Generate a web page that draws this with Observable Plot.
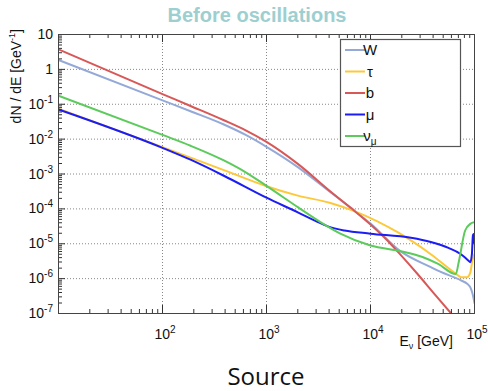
<!DOCTYPE html>
<html><head><meta charset="utf-8">
<script src="https://cdn.jsdelivr.net/npm/d3@7"></script>
<script src="https://cdn.jsdelivr.net/npm/@observablehq/plot@0.6"></script>
<style>
html,body{margin:0;padding:0;background:#fff;}
#chart svg{display:block;font-family:"Liberation Sans",Arial,sans-serif;}
</style>
</head><body><div id="chart"></div>
<script>
// ---- data ----
const seriesNames = ["W", "τ", "b", "μ", "ν_μ"];
const seriesColors = ["#94a9d8", "#fdc83a", "#d85858", "#1c1cf5", "#5ccb5c"];

const eW   = [10, 100, 186, 389, 631, 1000, 2000, 4120, 6460, 10000, 19500, 38000, 46800, 74100, 85100, 91200, 95500, 100000];
const vW   = [1.85, 0.129, 0.0631, 0.0263, 0.0132, 6.03e-3, 1.58e-3, 3.02e-4, 1.07e-4, 3.8e-5, 6.03e-6, 2.14e-6, 1.58e-6, 8.9e-7, 7.08e-7, 5.62e-7, 3.8e-7, 2.0e-7];

const eTau = [10, 100, 186, 389, 1000, 2000, 4120, 7080, 18200, 38000, 66100, 74100, 85100, 91200, 95500, 100000];
const vTau = [0.0741, 5.89e-3, 2.95e-3, 1.29e-3, 4.47e-4, 2.4e-4, 1.48e-4, 8.51e-5, 2.14e-5, 5.01e-6, 1.38e-6, 1.1e-6, 1.1e-6, 1.51e-6, 3.31e-6, 5.01e-6];

const eB   = [10, 100, 186, 389, 631, 1000, 2000, 4120, 6460, 10000, 15800, 19500, 28200, 40700, 61700, 79400];
const vB   = [3.76, 0.195, 0.0891, 0.0347, 0.0178, 8.32e-3, 1.95e-3, 3.16e-4, 1.07e-4, 3.55e-5, 9.55e-6, 4.79e-6, 1.38e-6, 3.8e-7, 8.9e-8, 3.7e-8];

const eMu  = [10, 100, 186, 389, 1000, 2000, 3020, 3890, 5620, 10000, 24500, 38000, 56200, 74100, 87100, 91200, 94400, 96600, 98400, 100000];
const vMu  = [0.0708, 5.62e-3, 2.57e-3, 8.91e-4, 2.09e-4, 7.94e-5, 4.37e-5, 3.16e-5, 2.4e-5, 1.95e-5, 1.48e-5, 1.12e-5, 7.59e-6, 5.01e-6, 3.31e-6, 2.95e-6, 5.01e-6, 1.78e-5, 1.91e-5, 1.0e-5];

const eNu  = [10, 100, 186, 389, 631, 1000, 2000, 3300, 5130, 10000, 20000, 31600, 44700, 66100, 70800, 81300, 91200, 100000];
const vNu  = [0.175, 0.0132, 6.46e-3, 2.45e-3, 1.12e-3, 4.57e-4, 1.12e-4, 4.17e-5, 1.95e-5, 8.91e-6, 6.03e-6, 4.17e-6, 2.63e-6, 1.35e-6, 3.16e-6, 2.4e-5, 3.72e-5, 4.17e-5];

const xTickExps = [2, 3, 4, 5];
const yTickExps = [-7, -6, -5, -4, -3, -2, -1, 0, 1];

// ---- build table ----
const seriesE = [eW, eTau, eB, eMu, eNu];
const seriesV = [vW, vTau, vB, vMu, vNu];
const rows = [];
seriesNames.forEach((s, i) => seriesE[i].forEach((e, j) => rows.push({series: s, E: e, v: seriesV[i][j]})));

const W = 488, H = 391, mL = 58, mR = 14, mT = 34, mB = 78;
const innerW = W - mL - mR, innerH = H - mT - mB;

const xMinor = [], yMinor = [];
for (let d = 1; d < 5; d++) for (let k = 2; k <= 9; k++) xMinor.push(k * 10 ** d);
for (let d = -7; d < 1; d++) for (let k = 2; k <= 9; k++) yMinor.push(k * 10 ** d);
const xMajorIn = [100, 1000, 10000];
const yMajorIn = yTickExps.slice(1, -1).map(e => 10 ** e);

const tickColor = "#333";
const plot = Plot.plot({
  width: W, height: H,
  marginLeft: mL, marginRight: mR, marginTop: mT, marginBottom: mB,
  x: {type: "log", domain: [10, 1e5], axis: null},
  y: {type: "log", domain: [1e-7, 10], axis: null},
  color: {domain: seriesNames, range: seriesColors},
  style: {background: "white", overflow: "visible"},
  marks: [
    Plot.gridX(xMajorIn, {stroke: "#888", strokeOpacity: 1, strokeDasharray: "1,2"}),
    Plot.gridY(yMajorIn, {stroke: "#888", strokeOpacity: 1, strokeDasharray: "1,2"}),
    Plot.line(rows, {x: "E", y: "v", z: "series", stroke: "series", strokeWidth: 2, curve: "monotone-x", clip: true}),
    Plot.tickX(xMinor, {x: d => d, insetTop: innerH - 4, stroke: tickColor}),
    Plot.tickX(xMajorIn, {x: d => d, insetTop: innerH - 8, stroke: tickColor}),
    Plot.tickX(xMinor, {x: d => d, insetBottom: innerH - 4, stroke: tickColor}),
    Plot.tickX(xMajorIn, {x: d => d, insetBottom: innerH - 8, stroke: tickColor}),
    Plot.tickY(yMinor, {y: d => d, insetRight: innerW - 4, stroke: tickColor}),
    Plot.tickY(yMajorIn, {y: d => d, insetRight: innerW - 7, stroke: tickColor}),
    Plot.frame({stroke: "#444"})
  ]
});
document.getElementById("chart").appendChild(plot);

// ---- text & legend ----
const svg = d3.select(plot);
const xs = plot.scale("x"), ys = plot.scale("y");
const font = "'Liberation Sans', Arial, sans-serif";

function powerLabel(g, e) {
  if (e === 0) { g.text("1"); return; }
  if (e === 1) { g.text("10"); return; }
  g.append("tspan").text("10");
  g.append("tspan").attr("dy", -6).attr("font-size", 10).text(String(e));
}

yTickExps.forEach(e => {
  const t = svg.append("text").attr("x", 53).attr("y", ys.apply(10 ** e) + 5)
    .attr("text-anchor", "end").attr("font-size", 14).attr("font-family", font).attr("fill", "#111");
  powerLabel(t, e);
});
xTickExps.forEach(e => {
  const t = svg.append("text").attr("x", xs.apply(10 ** e) + 3).attr("y", 339)
    .attr("text-anchor", "middle").attr("font-size", 14).attr("font-family", font).attr("fill", "#111");
  powerLabel(t, e);
});

// y title
const yt = svg.append("text").attr("transform", "translate(21,29) rotate(-90)")
  .attr("text-anchor", "end").attr("font-size", 14).attr("font-family", font).attr("fill", "#111");
yt.append("tspan").text("dN / dE [GeV");
yt.append("tspan").attr("dy", -6).attr("font-size", 9).text("-1");
yt.append("tspan").attr("dy", 6).text("]");

// x title
const xt = svg.append("text").attr("x", 453).attr("y", 346)
  .attr("text-anchor", "end").attr("font-size", 14).attr("font-family", font).attr("fill", "#111");
xt.append("tspan").text("E");
xt.append("tspan").attr("dy", 3).attr("font-size", 9).text("ν");
xt.append("tspan").attr("dy", -3).text(" [GeV]");

// title
svg.append("text").attr("x", 257).attr("y", 22).attr("text-anchor", "middle")
  .attr("font-size", 20).attr("font-weight", "bold").attr("font-family", font)
  .attr("fill", "#9dcfd0").text("Before oscillations");

// caption
svg.append("text").attr("x", 266).attr("y", 385).attr("text-anchor", "middle")
  .attr("font-size", 24).attr("font-family", "'Open Sans', sans-serif")
  .attr("fill", "#111").text("Source");

// legend
const lg = svg.append("g");
lg.append("rect").attr("x", 340.5).attr("y", 39.5).attr("width", 120).attr("height", 107)
  .attr("fill", "white").attr("stroke", "#555").attr("stroke-width", 1.2);
seriesNames.forEach((s, i) => {
  const cy = 50 + i * 21.5;
  lg.append("line").attr("x1", 345).attr("x2", 365).attr("y1", cy).attr("y2", cy)
    .attr("stroke", seriesColors[i]).attr("stroke-width", 2);
  const t = lg.append("text").attr("x", 370).attr("y", cy + 5).attr("font-size", 15)
    .attr("font-family", font).attr("fill", "#111");
  const parts = s.split("_");
  t.append("tspan").text(parts[0]);
  if (parts[1]) t.append("tspan").attr("dy", 4).attr("font-size", 10).text(parts[1]);
});
</script>
</body></html>
